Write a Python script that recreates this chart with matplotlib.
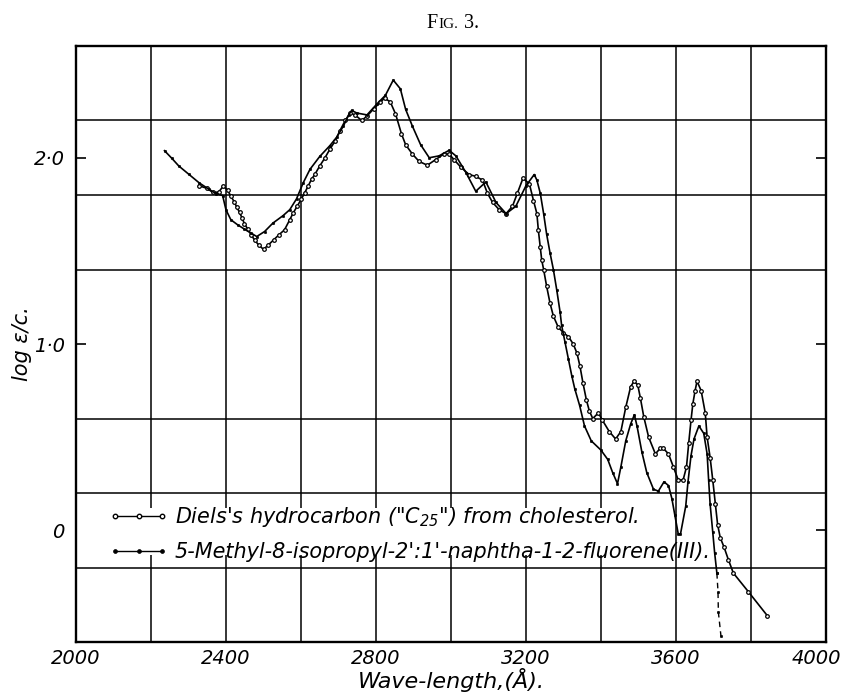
import matplotlib
matplotlib.use("Agg")
import matplotlib.pyplot as plt
import matplotlib.transforms as mtrans
from matplotlib import font_manager as fm
from matplotlib.patches import Rectangle
from matplotlib.lines import Line2D


def have(name):
    try:
        fm.findfont(fm.FontProperties(family=name), fallback_to_default=False)
        return True
    except Exception:
        return False


FONT = 'DejaVu Sans'
SERIF = 'Liberation Serif' if have('Liberation Serif') else 'DejaVu Serif'
plt.rcParams['font.family'] = [FONT]
plt.rcParams['mathtext.fontset'] = 'custom'
plt.rcParams['mathtext.rm'] = FONT + ':italic'
plt.rcParams['mathtext.it'] = FONT + ':italic'

# ---- data ----
diels_wl = [2328, 2350, 2364, 2380, 2393, 2404, 2413, 2422, 2429, 2436, 2443, 2449,
            2458, 2467, 2476, 2487, 2500, 2513, 2527, 2541, 2556, 2570, 2579, 2590,
            2601, 2610, 2619, 2628, 2637, 2650, 2664, 2677, 2691, 2704, 2718, 2731,
            2744, 2762, 2776, 2794, 2812, 2823, 2838, 2852, 2868, 2879, 2897, 2915,
            2937, 2959, 2981, 2995, 3008, 3026, 3048, 3066, 3084, 3097, 3111, 3129,
            3147, 3164, 3177, 3192, 3209, 3220, 3229, 3233, 3238, 3242, 3247, 3255,
            3264, 3273, 3286, 3300, 3313, 3326, 3336, 3344, 3352, 3361, 3369, 3378,
            3393, 3404, 3422, 3439, 3453, 3466, 3479, 3488, 3498, 3505, 3514, 3527,
            3545, 3558, 3566, 3580, 3593, 3606, 3619, 3628, 3634, 3640, 3645, 3651,
            3656, 3667, 3678, 3683, 3691, 3698, 3705, 3711, 3718, 3728, 3740, 3753,
            3793, 3844]
diels_log = [1.850, 1.835, 1.815, 1.815, 1.848, 1.826, 1.794, 1.763, 1.734, 1.707, 1.676, 1.646,
             1.617, 1.586, 1.559, 1.532, 1.508, 1.532, 1.559, 1.586, 1.613, 1.667, 1.703, 1.740,
             1.779, 1.812, 1.848, 1.884, 1.911, 1.956, 2.000, 2.046, 2.090, 2.146, 2.200, 2.240,
             2.230, 2.200, 2.224, 2.263, 2.300, 2.320, 2.300, 2.236, 2.128, 2.070, 2.020, 1.980,
             1.960, 1.990, 2.020, 2.020, 1.990, 1.950, 1.910, 1.900, 1.880, 1.810, 1.760, 1.720,
             1.700, 1.740, 1.810, 1.890, 1.860, 1.770, 1.700, 1.610, 1.520, 1.450, 1.400, 1.310,
             1.220, 1.150, 1.090, 1.060, 1.040, 1.000, 0.950, 0.880, 0.790, 0.700, 0.640, 0.600,
             0.630, 0.590, 0.530, 0.490, 0.530, 0.660, 0.770, 0.800, 0.780, 0.710, 0.610, 0.500,
             0.410, 0.440, 0.440, 0.410, 0.340, 0.270, 0.270, 0.340, 0.470, 0.590, 0.680, 0.750,
             0.800, 0.750, 0.630, 0.500, 0.390, 0.270, 0.140, 0.030, -0.040, -0.090, -0.160, -0.230,
             -0.330, -0.460]

methyl_wl = [2236, 2256, 2274, 2301, 2328, 2355, 2373, 2391, 2400, 2413, 2431, 2449,
             2467, 2482, 2503, 2525, 2552, 2570, 2588, 2606, 2624, 2650, 2677, 2695,
             2713, 2727, 2735, 2749, 2776, 2803, 2825, 2846, 2865, 2879, 2897, 2919,
             2942, 2968, 2995, 3013, 3040, 3066, 3093, 3120, 3147, 3173, 3200, 3222,
             3229, 3238, 3247, 3255, 3264, 3273, 3282, 3291, 3295, 3304, 3313, 3322,
             3330, 3343, 3356, 3374, 3400, 3418, 3431, 3444, 3453, 3466, 3479, 3489,
             3496, 3509, 3522, 3540, 3553, 3568, 3580, 3589, 3597, 3606, 3612, 3626,
             3632, 3640, 3648, 3661, 3674, 3683, 3687, 3691, 3698, 3703, 3709]
methyl_log = [2.038, 1.996, 1.956, 1.911, 1.866, 1.830, 1.808, 1.797, 1.720, 1.667, 1.640, 1.617,
              1.595, 1.577, 1.604, 1.649, 1.689, 1.721, 1.779, 1.866, 1.938, 2.007, 2.065, 2.110,
              2.170, 2.230, 2.254, 2.240, 2.230, 2.290, 2.335, 2.417, 2.370, 2.260, 2.170, 2.070,
              2.000, 2.010, 2.040, 2.010, 1.920, 1.820, 1.870, 1.760, 1.700, 1.740, 1.850, 1.910,
              1.880, 1.810, 1.700, 1.590, 1.490, 1.400, 1.290, 1.170, 1.100, 1.010, 0.920, 0.830,
              0.760, 0.670, 0.560, 0.480, 0.430, 0.380, 0.310, 0.250, 0.340, 0.480, 0.570, 0.620,
              0.560, 0.420, 0.310, 0.220, 0.210, 0.260, 0.240, 0.170, 0.080, -0.020, -0.020, 0.130,
              0.260, 0.400, 0.490, 0.560, 0.520, 0.410, 0.270, 0.140, -0.010, -0.120, -0.230]
# uncertain tail (drawn broken)
methyl_tail_wl = [3709, 3712, 3713, 3720]
methyl_tail_log = [-0.23, -0.33, -0.44, -0.57]

x_label_ticks = [2000, 2400, 2800, 3200, 3600, 4000]
x_grid = [2200, 2600, 3000, 3400, 3800]
y_label_ticks = [0.0, 1.0, 2.0]
y_tick_labels = ['0', '1·0', '2·0']
y_grid = [-0.2, 0.2, 0.6, 1.0, 1.4, 1.8, 2.2]

label_diels = 'Diels\'s hydrocarbon ("C$_{25}$") from cholesterol.'
label_methyl = "5-Methyl-8-isopropyl-2':1'-naphtha-1-2-fluorene(III)."

# ---- figure ----
W, H = 845, 697
fig = plt.figure(figsize=(W / 100, H / 100), dpi=100)
ax = fig.add_axes([76 / W, 1 - 642 / H, 750 / W, 596 / H])
ax.set_xlim(2000, 4000)
ax.set_ylim(-0.6, 2.6)

ax.set_xticks(x_label_ticks)
ax.set_xticks(x_grid, minor=True)
ax.set_yticks(y_label_ticks)
ax.set_yticklabels(y_tick_labels)
ax.set_yticks(y_grid, minor=True)

ax.grid(True, which='minor', color='black', linewidth=1.1)
ax.grid(True, which='major', axis='x', color='black', linewidth=1.1)
ax.set_axisbelow(True)

ax.tick_params(axis='x', which='both', length=0, pad=5)
ax.tick_params(axis='y', which='minor', length=0)
ax.tick_params(axis='y', which='major', direction='in', length=7, width=1.2,
               left=True, right=True, pad=8)
for lab in ax.get_xticklabels() + ax.get_yticklabels():
    lab.set_fontstyle('italic')
    lab.set_fontsize(14)
last = ax.get_xticklabels()[-1]
last.set_transform(last.get_transform() +
                   mtrans.ScaledTranslation(-7 / 72, 0, fig.dpi_scale_trans))

for s in ax.spines.values():
    s.set_linewidth(1.7)

# white box behind the legend
ax.add_patch(Rectangle((0.0, 0.146), 0.75, 0.079, transform=ax.transAxes,
                       facecolor='white', edgecolor='none', zorder=1.5))

ax.plot(diels_wl, diels_log, color='black', linewidth=1.2, marker='o',
        markersize=2.6, markerfacecolor='white', markeredgewidth=0.9, zorder=3)
ax.plot(methyl_wl, methyl_log, color='black', linewidth=1.2, marker='o',
        markersize=1.8, markerfacecolor='black', markeredgewidth=0.4, zorder=3)
ax.plot(methyl_tail_wl, methyl_tail_log, color='black', linewidth=1.0,
        linestyle=(0, (4, 3)), marker='o', markersize=1.8, markerfacecolor='black',
        markeredgewidth=0.4, zorder=3)

# fit legend font so the first label spans about 465 px as in the reference
probe = fig.text(0, 0, label_diels, fontsize=15, fontstyle='italic')
fig.canvas.draw()
pw = probe.get_window_extent(fig.canvas.get_renderer()).width
probe.remove()
leg_fs = 15 * 465 / pw

h1 = Line2D([], [], color='black', linewidth=1.0, marker='o', markersize=3.2,
            markerfacecolor='white', markeredgewidth=1.0)
h2 = Line2D([], [], color='black', linewidth=1.0, marker='o', markersize=2.8,
            markerfacecolor='black', markeredgewidth=0.5)
hl_px = 60
leg = ax.legend([h1, h2], [label_diels, label_methyl], loc='upper left',
                bbox_to_anchor=(0.038, 0.237), borderaxespad=0, borderpad=0.2,
                frameon=False, numpoints=3, handlelength=hl_px / (leg_fs * 100 / 72),
                handletextpad=0.3, labelspacing=(34 / (leg_fs * 100 / 72)) - 1.0,
                prop={'family': [FONT], 'style': 'italic', 'size': leg_fs})
leg.set_zorder(4)

ax.set_xlabel('Wave-length,(Å).', fontsize=16, fontstyle='italic', labelpad=0)
ax.set_ylabel('log ε/c.', fontsize=15, fontstyle='italic')
ax.yaxis.set_label_coords(-0.058, 0.50)

# title "FIG. 3." in small capitals
ren = fig.canvas.get_renderer()
xpos = 426
for part, fs in [('F', 14.5), ('IG.', 11), (' 3.', 14.5)]:
    t = fig.text(xpos / W, 1 - 28 / H, part, ha='left', va='baseline', fontsize=fs,
                 family=[SERIF, 'DejaVu Serif'])
    xpos += t.get_window_extent(ren).width + 0.8

fig.savefig('out.png', dpi=100)
